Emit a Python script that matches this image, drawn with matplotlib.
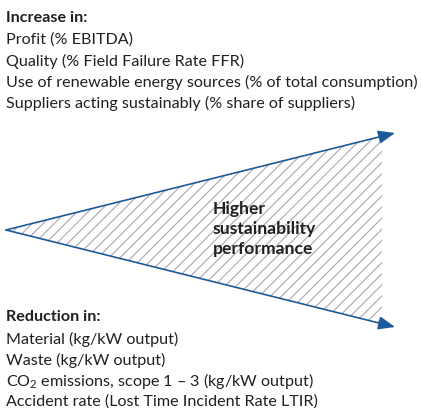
import matplotlib
matplotlib.use("Agg")
import matplotlib.pyplot as plt
from matplotlib.patches import Polygon

increase_title = "Increase in:"
increase_items = [
    "Profit (% EBITDA)",
    "Quality (% Field Failure Rate FFR)",
    "Use of renewable energy sources (% of total consumption)",
    "Suppliers acting sustainably (% share of suppliers)",
]
reduction_title = "Reduction in:"
reduction_items = [
    "Material (kg/kW output)",
    "Waste (kg/kW output)",
    "CO$_2$ emissions, scope 1 \u2013 3 (kg/kW output)",
    "Accident rate (Lost Time Incident Rate LTIR)",
]
center_label = "Higher\nsustainability\nperformance"

blue = "#1d5a9a"
txt = "#231f20"
plt.rcParams["font.family"] = ["Lato", "DejaVu Sans"]
plt.rcParams["mathtext.fontset"] = "custom"
plt.rcParams["mathtext.rm"] = "Lato"
plt.rcParams["hatch.linewidth"] = 0.8
plt.rcParams["hatch.color"] = "#a8a8a8"

fig = plt.figure(figsize=(4.21, 4.14), dpi=100)
ax = fig.add_axes([0, 0, 1, 1])
ax.set_xlim(0, 421)
ax.set_ylim(414, 0)
ax.axis("off")

fs = 11.6
ax.text(6, 18, increase_title, fontsize=fs, fontweight="bold", color=txt, va="center")
for i, s in enumerate(increase_items):
    ax.text(6, 40 + i * 21, s, fontsize=fs, color=txt, va="center")

ax.text(6, 317, reduction_title, fontsize=fs, fontweight="bold", color=txt, va="center")
for i, s in enumerate(reduction_items):
    ax.text(6, 339 + i * 21, s, fontsize=fs, color=txt, va="center")

# hatched wedge
apex = (6, 231)
top = (395, 134)
bot = (395, 328)
xr = 382
yt = apex[1] + (top[1] - apex[1]) * (xr - apex[0]) / (top[0] - apex[0])
yb = apex[1] + (bot[1] - apex[1]) * (xr - apex[0]) / (bot[0] - apex[0])
ax.add_patch(Polygon([apex, (xr, yt), (xr, yb)], closed=True, facecolor="none",
                     edgecolor="#a8a8a8", hatch="///", linewidth=0))

for tip in (top, bot):
    ax.annotate("", xy=tip, xytext=apex,
                arrowprops=dict(arrowstyle="-|>,head_length=1.0,head_width=0.4",
                                color=blue, lw=1.2, shrinkA=0, shrinkB=0))

ax.text(213, 229, center_label, fontsize=12.6, fontweight="bold", color=txt,
        va="center", ha="left", linespacing=1.3)

fig.savefig("out.png", dpi=100)
